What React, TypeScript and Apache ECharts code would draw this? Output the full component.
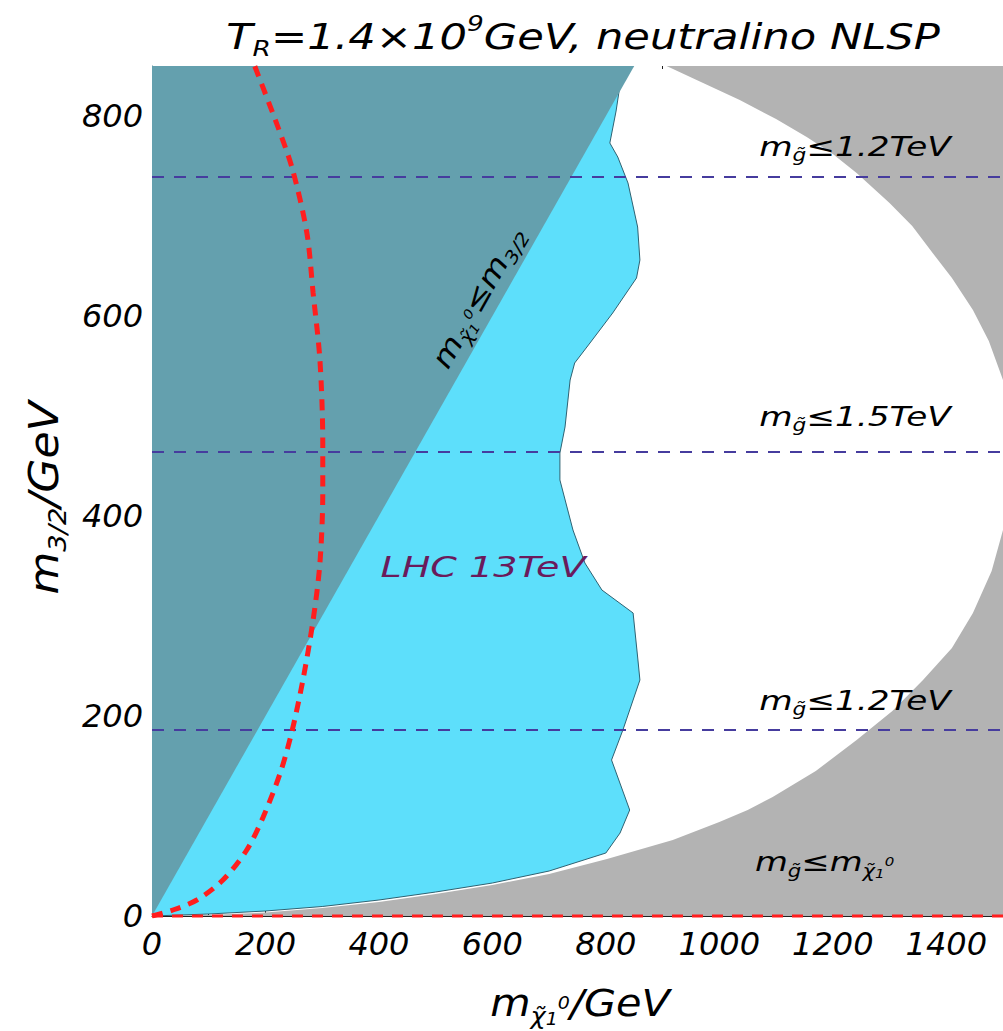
import React, { useEffect, useRef } from "react";
import * as echarts from "echarts";

// ---- data (GeV units) ----
const xRange = [0, 1500];
const yRange = [0, 850];
// gray region m_gluino <= m_chi (lower branch)
const grayLower: number[][] = [
  [0, 0], [100, 1], [200, 3.5], [300, 8], [400, 14], [500, 22], [600, 31], [700, 42],
  [802, 57], [918, 76], [1000, 94], [1050, 106],
  [1094, 119], [1170, 145], [1242, 176], [1305, 205], [1359, 236], [1410, 268],
  [1447, 303], [1480, 345], [1500, 386], [1500, 0],
];
// gray region (upper branch)
const grayUpper: number[][] = [
  [907, 850], [960, 836], [1036, 816], [1100, 797], [1154, 779], [1200, 762], [1242, 743],
  [1300, 713], [1340, 690], [1376, 663], [1410, 638], [1447, 606], [1475, 575], [1500, 536],
  [1500, 850],
];
// LHC 13 TeV excluded region
const lhcRegion: number[][] = [
  [0, 0], [100, 2], [200, 5], [300, 9.5], [400, 16], [500, 24], [600, 33], [700, 45], [800, 63],
  [825, 83], [842, 106], [810, 156], [830, 186], [860, 236], [856, 259], [848, 303],
  [793, 326], [763, 353], [742, 386], [719, 436], [719, 463], [728, 489], [737, 536],
  [745, 553], [772, 573], [812, 603], [854, 638], [860, 656], [856, 689], [839, 733],
  [821, 759], [807, 773], [818, 805], [830, 850], [0, 850],
];
// m_chi <= m_3/2 region
const diagRegion: number[][] = [[0, 0], [850, 850], [0, 850]];
// red dashed curve
const redCurve: number[][] = [
  [0, 0], [37, 6], [79, 16], [125, 36], [167, 66], [196, 99], [226, 143], [246, 183],
  [266, 236], [284, 296], [296, 353], [301, 423], [301, 473], [296, 556], [284, 623],
  [273, 683], [248, 746], [222, 789], [181, 850],
];
const redBottom: number[][] = [[0, 0], [1500, 0]];
// gluino mass contours (m_3/2 values)
const gluinoLines = [739, 464, 186];

const FONT = "DejaVu Sans";

function polySeries(name: string, pts: number[][], fill: string, stroke: string | null, lw: number) {
  return {
    type: "custom",
    name,
    data: pts,
    silent: true,
    clip: true,
    renderItem: (params: any, api: any) => {
      if (params.dataIndex !== 0) return null;
      return {
        type: "polygon",
        shape: { points: pts.map((p) => api.coord(p)) },
        style: { fill, stroke: stroke || "none", lineWidth: lw },
      };
    },
  };
}

function richStyles(size: number, fill = "#000") {
  const base = { fontFamily: FONT, fontStyle: "italic", fill };
  return {
    a: { ...base, fontSize: size, lineHeight: Math.round(size * 1.3) },
    s: { ...base, fontSize: Math.round(size * 0.62), lineHeight: Math.round(size * 0.62), verticalAlign: "bottom" },
    p: { ...base, fontSize: Math.round(size * 0.62), lineHeight: Math.round(size * 0.62), verticalAlign: "top" },
    t: { ...base, fontSize: Math.round(size * 0.45), lineHeight: Math.round(size * 0.45), verticalAlign: "bottom" },
    q: { ...base, fontSize: Math.round(size * 0.45), lineHeight: Math.round(size * 0.45), verticalAlign: "middle" },
  };
}

function label(text: string, x: number, y: number, size: number, opts: any = {}) {
  return {
    type: "text",
    x,
    y,
    rotation: opts.rotation || 0,
    scaleX: opts.scaleX || 1,
    z: 100,
    style: {
      text,
      rich: richStyles(size, opts.fill || "#000"),
      align: opts.align || "center",
      verticalAlign: "middle",
    },
  };
}

export default function App() {
  const ref = useRef<HTMLDivElement>(null);
  useEffect(() => {
    document.body.style.margin = "0";
    if (!ref.current) return;
    const chart = echarts.init(ref.current, null, { renderer: "svg" });
    const axisLabel = {
      fontFamily: FONT,
      fontStyle: "italic",
      fontSize: 32,
      color: "#000",
      showMaxLabel: false,
      formatter: (v: number) => String(v),
    };
    const gl = "g\u0303";
    const chi = "\u03C7\u0303";
    chart.setOption({
      animation: false,
      backgroundColor: "#fff",
      grid: { left: 152, top: 66, right: 0, bottom: 115 },
      xAxis: [
        {
          type: "value", min: xRange[0], max: xRange[1], interval: 200, position: "bottom",
          axisLine: { show: true, lineStyle: { color: "#222", width: 1 } },
          axisTick: { show: true, inside: true, length: 5, lineStyle: { color: "#222" } },
          minorTick: { show: true, splitNumber: 2, length: 3, lineStyle: { color: "#222" } },
          splitLine: { show: false },
          axisLabel: { ...axisLabel, margin: 12 },
        },
        {
          type: "value", min: xRange[0], max: xRange[1], interval: 200, position: "top",
          axisLine: { show: false },
          axisTick: { show: true, inside: true, length: 5, lineStyle: { color: "#222" } },
          minorTick: { show: true, splitNumber: 2, length: 3, lineStyle: { color: "#222" } },
          splitLine: { show: false },
          axisLabel: { show: false },
        },
      ],
      yAxis: {
        type: "value", min: yRange[0], max: yRange[1], interval: 200,
        axisLine: { show: true, lineStyle: { color: "#4f7f8a", width: 1 } },
        axisTick: { show: true, inside: true, length: 5, lineStyle: { color: "#222" } },
        minorTick: { show: true, splitNumber: 4, length: 3, lineStyle: { color: "#222" } },
        splitLine: { show: false },
        axisLabel: { ...axisLabel, margin: 9 },
      },
      series: [
        polySeries("gray lower", grayLower, "#b3b3b3", null, 0),
        polySeries("gray upper", grayUpper, "#b3b3b3", null, 0),
        polySeries("LHC 13TeV", lhcRegion, "#5ddffb", "#2f6272", 1),
        polySeries("diag", diagRegion, "#64a0ae", null, 0),
        ...gluinoLines.map((v) => ({
          type: "line",
          data: [[xRange[0], v], [xRange[1], v]],
          symbol: "none",
          silent: true,
          lineStyle: { color: "#463c9e", width: 2, type: [12, 10] },
          z: 5,
        })),
        {
          type: "line",
          data: redCurve,
          symbol: "none",
          smooth: 0.3,
          silent: true,
          lineStyle: { color: "#ff1e1e", width: 5, type: [11, 8] },
          z: 6,
        },
        {
          type: "line",
          data: redBottom,
          symbol: "none",
          silent: true,
          clip: false,
          lineStyle: { color: "#ff1e1e", width: 3, type: [11, 9] },
          z: 6,
        },
      ],
      graphic: [
        label("{a|T}{s|R}{a|=1.4\u00D710}{p|9}{a|GeV, neutralino NLSP}", 583, 36, 36, { scaleX: 1.2 }),
        label(`{a|m}{s|${gl}}{a|\u22641.2TeV}`, 855, 146, 27, { scaleX: 1.27 }),
        label(`{a|m}{s|${gl}}{a|\u22641.5TeV}`, 855, 416, 27, { scaleX: 1.27 }),
        label(`{a|m}{s|${gl}}{a|\u22641.2TeV}`, 855, 700, 27, { scaleX: 1.27 }),
        label(`{a|m}{s|${gl}}{a|\u2264m}{s|${chi}}{t|1}{q|0}`, 755, 862, 27, { scaleX: 1.25, align: "left" }),
        label("{a|LHC 13TeV}", 483, 567, 28, { scaleX: 1.36, fill: "#6a1b5c" }),
        label(`{a|m}{s|${chi}}{t|1}{q|0}{a|\u2264m}{s|3/2}`, 478, 297, 29, { rotation: (60.4 * Math.PI) / 180, scaleX: 1.15 }),
        label("{a|m}{s|3/2}{a|/GeV}", 44, 498, 40, { rotation: Math.PI / 2, scaleX: 1.1 }),
        label(`{a|m}{s|${chi}}{t|1}{q|0}{a|/GeV}`, 580, 1003, 37, { scaleX: 1.12 }),
      ],
    });
    return () => chart.dispose();
  }, []);
  return <div ref={ref} style={{ width: 1003, height: 1031 }} />;
}
